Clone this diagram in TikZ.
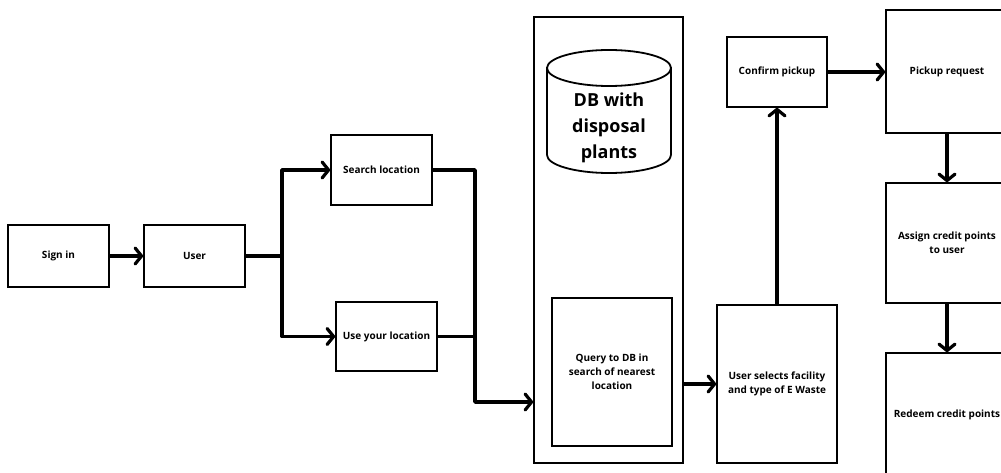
\documentclass[tikz,border=0pt]{standalone}
\usepackage{fontspec}
\setmainfont{Open Sans}
\usetikzlibrary{arrows.meta}
\tikzset{
  box/.style={draw, line width=1.6pt, minimum width=#1, align=center,
    font=\bfseries\fontsize{10}{14}\selectfont, inner sep=1pt},
  line/.style={line width=3.6pt, line join=round},
  arr/.style={line, -{Straight Barb[length=6.5pt, width=16pt, line width=3.2pt, line cap=round, line join=round]}},
}
\begin{document}
\begin{tikzpicture}[x=1pt, y=-1pt]
  \useasboundingbox (0,0) rectangle (1001,473);
  \clip (0,0) rectangle (1001,473);

  % main flow boxes
  \node[box=101pt, minimum height=62pt] (signin) at (58.5,256) {Sign in};
  \node[box=101pt, minimum height=62pt] (user) at (194.5,256) {User};
  \node[box=101pt, minimum height=70pt] (search) at (381.5,170) {Search location};
  \node[box=101pt, minimum height=69pt] (useloc) at (386.5,336.5) {Use your location};

  % container holding the database and the query
  \node[box=149pt, minimum height=446pt] (big) at (608.5,240) {};
  \node[box=120pt, minimum height=148pt] (query) at (612,372) {Query to DB in\\search of nearest\\location};

  % database cylinder
  \draw[line width=1.8pt] (547,68) arc[start angle=180, end angle=540, x radius=62, y radius=18];
  \draw[line width=1.8pt] (547,155) arc[start angle=180, end angle=360, x radius=62, y radius=-18];
  \draw[line width=2.8pt] (547,67) -- (547,155) (671,67) -- (671,155);
  \node[font=\bfseries\fontsize{18}{26}\selectfont, align=center] (db) at (609,128) {DB with\\disposal\\plants};

  \node[box=120pt, minimum height=158pt] (usersel) at (777,384) {User selects facility\\and type of E Waste};
  \node[box=100pt, minimum height=70pt] (confirm) at (777,72) {Confirm pickup};

  % right column
  \node[box=122pt, minimum height=123pt] (pickup) at (947,71.5) {Pickup request};
  \node[box=122pt, minimum height=120pt] (assign) at (947,243) {Assign credit points\\to user};
  \node[box=122pt, minimum height=124pt] (redeem) at (947,415) {Redeem credit points};

  % connectors
  \coordinate (fork) at (282,256);
  \coordinate (merge) at (475,402);
  \draw[arr] (signin) -- (user);
  \draw[line] (user.east) -- (fork);
  \draw[arr] (fork) |- (search.west);
  \draw[arr] (fork) |- (useloc.west);
  \draw[arr] (search.east) -| (merge) -- (merge -| big.west);
  \draw[line] (useloc.east) -- (useloc.east -| merge);
  \draw[arr] (big.east |- usersel.west) -- (usersel.west);
  \draw[arr] (usersel.north) -- (confirm.south);
  \draw[arr] (confirm.east) -- (confirm.east -| pickup.west);
  \draw[arr] (pickup.south) -- (assign.north);
  \draw[arr] (assign.south) -- (redeem.north);
\end{tikzpicture}
\end{document}
